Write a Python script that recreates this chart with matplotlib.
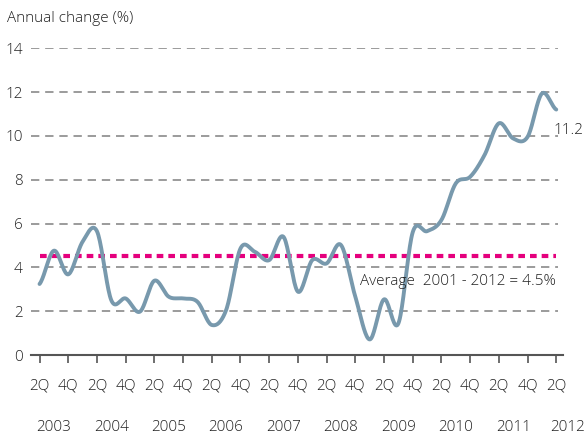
import numpy as np
import matplotlib
matplotlib.use("Agg")
import matplotlib.pyplot as plt

plt.rcParams['font.family'] = ['Open Sans', 'DejaVu Sans']
plt.rcParams['font.weight'] = 'light'

# quarterly annual change, 2Q 2003 .. 2Q 2012
values = [3.24, 4.76, 3.68, 5.17, 5.65, 2.50, 2.58, 1.98, 3.39, 2.66,
          2.58, 2.43, 1.37, 2.05, 4.86, 4.71, 4.33, 5.39, 2.89, 4.33,
          4.18, 5.02, 2.66, 0.71, 2.54, 1.44, 5.60, 5.65, 6.16, 7.83,
          8.13, 9.12, 10.57, 9.88, 9.95, 11.93, 11.20]
tick_labels = ['2Q', '4Q'] * 9 + ['2Q']
years = ['2003', '2004', '2005', '2006', '2007', '2008', '2009', '2010', '2011', '2012']
average = 4.5
yticks = [0, 2, 4, 6, 8, 10, 12, 14]

line_col = '#7899AD'
text_col = '#222222'
fs = 11


def catmull_rom(y, n=20):
    # smooth curve through every point, like a spreadsheet "smoothed line"
    y = np.asarray(y, float)
    p = np.concatenate([[y[0]], y, [y[-1]]])
    xs, ys = [], []
    t = np.linspace(0, 1, n, endpoint=False)
    for i in range(len(y) - 1):
        p0, p1, p2, p3 = p[i], p[i + 1], p[i + 2], p[i + 3]
        yy = 0.5 * ((2 * p1) + (-p0 + p2) * t + (2 * p0 - 5 * p1 + 4 * p2 - p3) * t ** 2
                    + (-p0 + 3 * p1 - 3 * p2 + p3) * t ** 3)
        xs.append(i + t)
        ys.append(yy)
    xs.append([len(y) - 1])
    ys.append([y[-1]])
    return np.concatenate(xs), np.concatenate(ys)


x = np.arange(len(values))
xs, ys = catmull_rom(values)

fig = plt.figure(figsize=(5.86, 4.34), dpi=100)
ax = fig.add_axes([0.053, 0.182, 0.908, 0.707])
ax.set_xlim(-0.59, 36.48)
ax.set_ylim(0, 14)

# dashed grid lines
ax.hlines(yticks[1:], -0.59, 36.13, colors='#8a8a8a', linestyles=(0, (5, 3.5)), linewidth=1.2, zorder=1)

ax.plot(xs, ys, color=line_col, linewidth=2.8, solid_capstyle='round', zorder=3)
ax.hlines(average, x[0], x[-1], colors='#E5007D', linestyles=(0, (1.6, 1.2)), linewidth=3, zorder=2)

ax.text(x[-1] - 0.2, values[-1] - 0.95, '%.1f' % values[-1], fontsize=fs, color=text_col, ha='left', va='center')
ax.text(x[-1], average - 1.16, 'Average  2001 - 2012 = %.1f%%' % average, fontsize=fs, color=text_col,
        ha='right', va='center')

for s in ['top', 'right', 'left']:
    ax.spines[s].set_visible(False)
ax.spines['bottom'].set_color('#555555')
ax.spines['bottom'].set_linewidth(1.5)

ax.set_yticks(yticks)
ax.set_yticklabels([str(v) for v in yticks], fontsize=fs, color=text_col)
ax.tick_params(axis='y', length=0, pad=6)

ax.set_xticks(x[::2])
ax.set_xticklabels(tick_labels, fontsize=fs, color=text_col)
ax.tick_params(axis='x', direction='out', length=6, width=1.2, color='#555555', pad=11)

for k, yr in enumerate(years):
    ax.text(min(1 + 4 * k, 36.8), -0.235, yr, transform=ax.get_xaxis_transform(), fontsize=fs,
            color=text_col, ha='center', va='center')

fig.text(0.012, 0.958, 'Annual change (%)', fontsize=fs, color=text_col, ha='left', va='center')

fig.savefig('out.png', dpi=100)
